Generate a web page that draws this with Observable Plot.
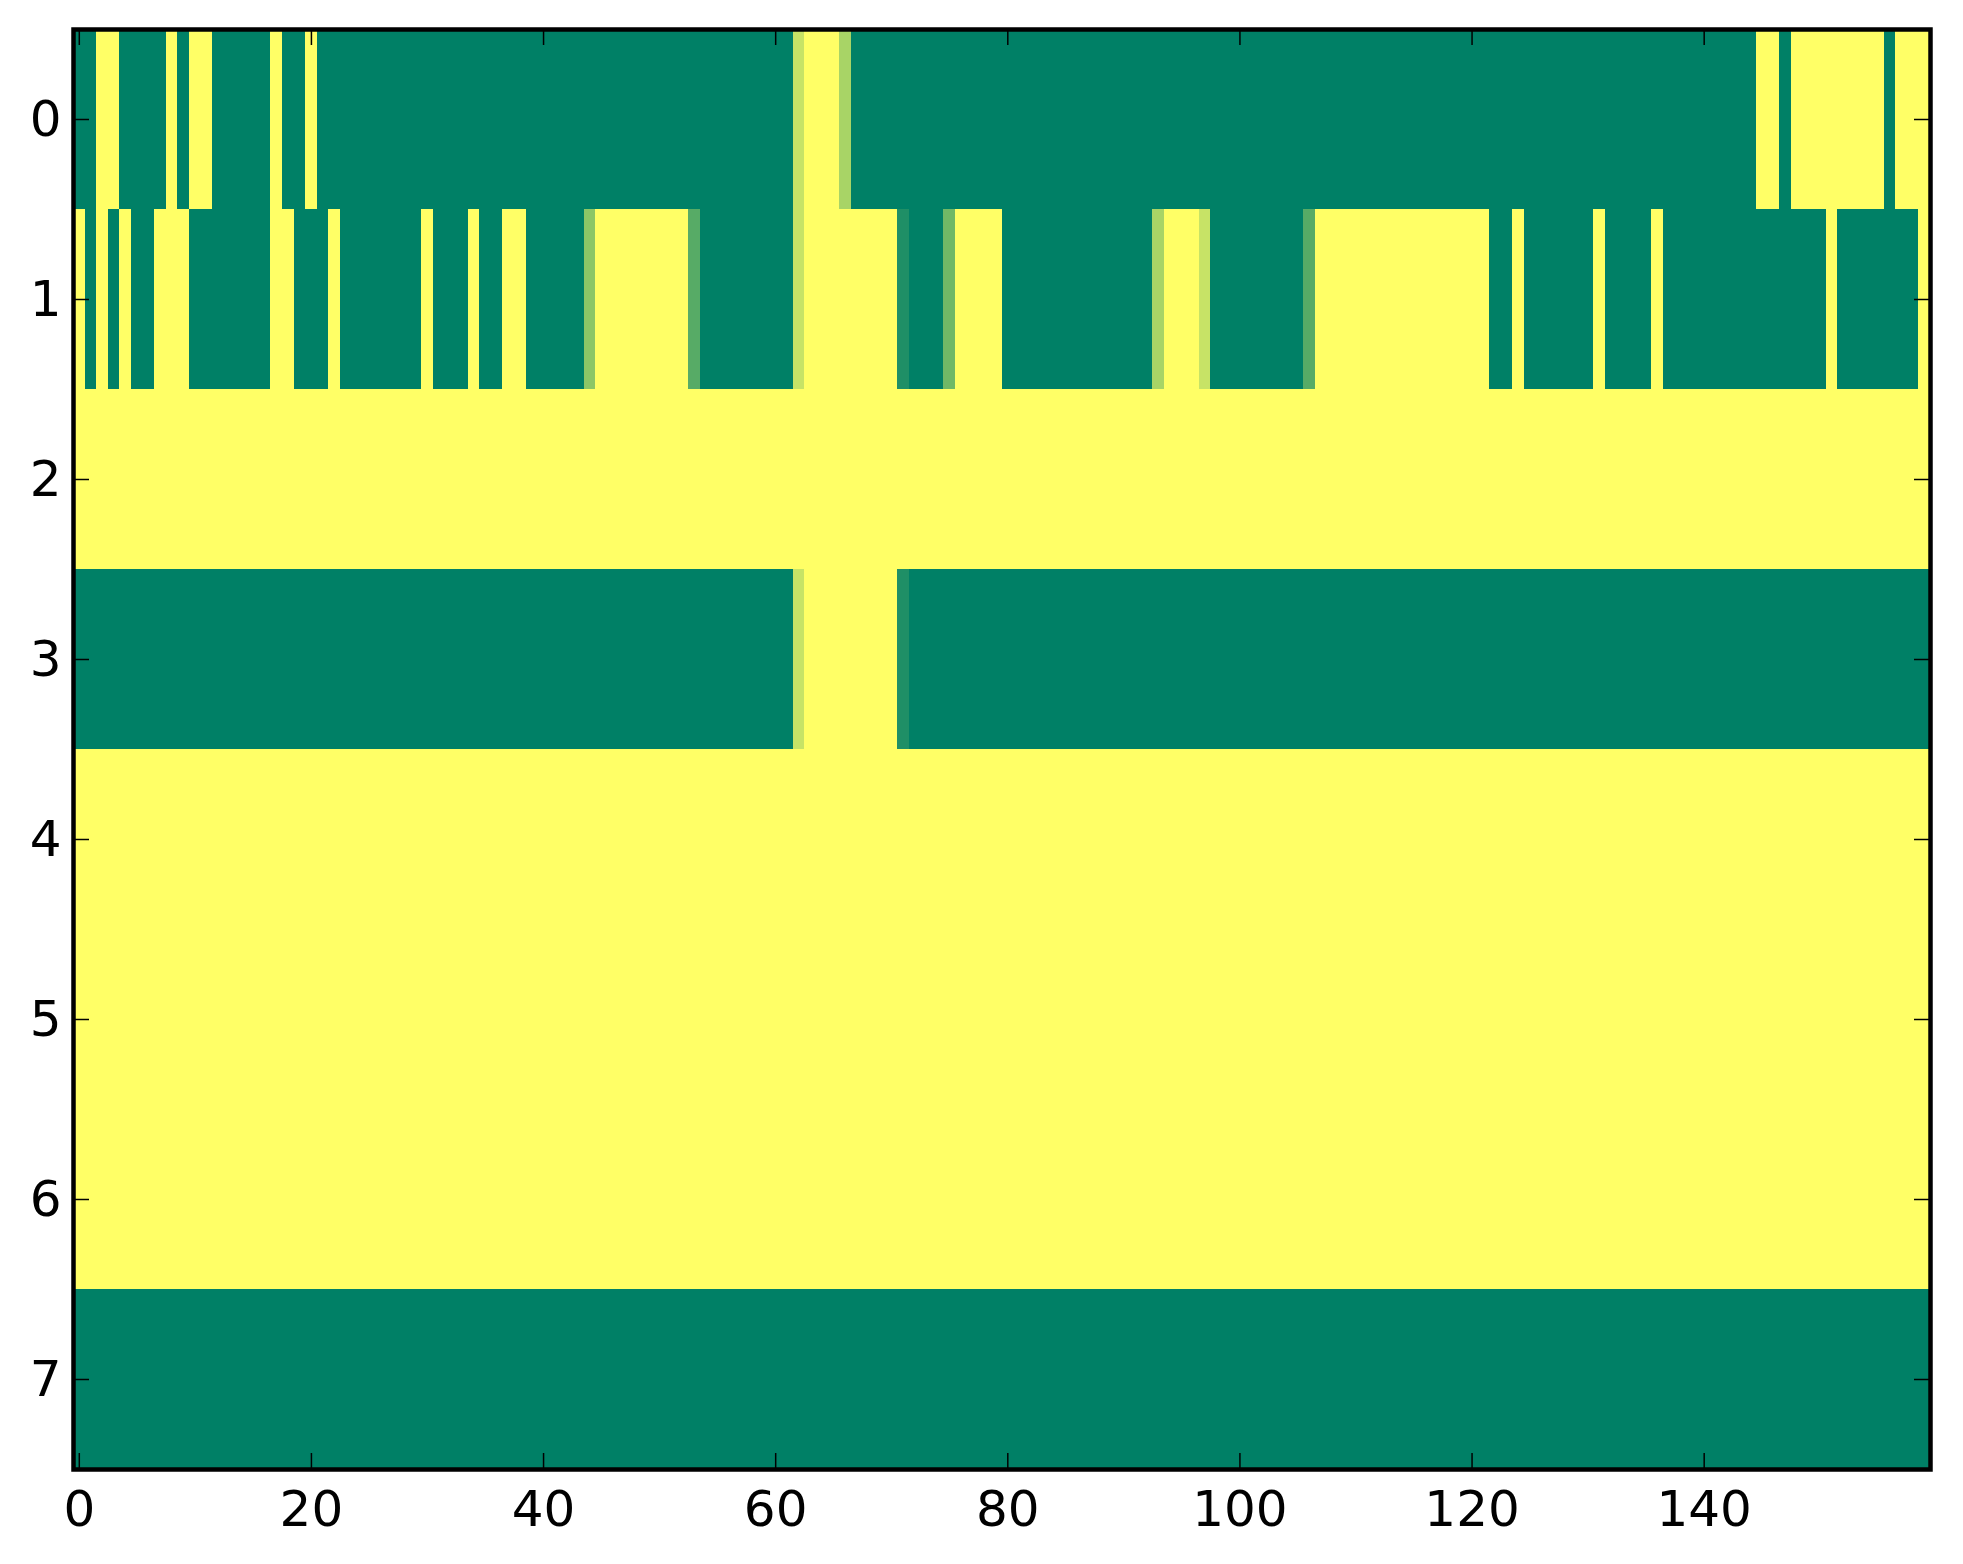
<!DOCTYPE html>
<html>
<head>
<meta charset="utf-8">
<script src="https://cdn.jsdelivr.net/npm/d3@7"></script>
<script src="https://cdn.jsdelivr.net/npm/@observablehq/plot@0.6"></script>
<style>
html, body { margin: 0; padding: 0; background: #fff; overflow: hidden; }
</style>
</head>
<body>
<div id="chart"></div>
<script>
// Matrix values (8 rows x 160 columns)
const row0 = [
  0,0,1,1,0,0,0,0,1,0,1,1,0,0,0,0,0,1,0,0,
  1,0,0,0,0,0,0,0,0,0,0,0,0,0,0,0,0,0,0,0,
  0,0,0,0,0,0,0,0,0,0,0,0,0,0,0,0,0,0,0,0,
  0,0,0.78,1,1,1,0.66,0,0,0,0,0,0,0,0,0,0,0,0,0,
  0,0,0,0,0,0,0,0,0,0,0,0,0,0,0,0,0,0,0,0,
  0,0,0,0,0,0,0,0,0,0,0,0,0,0,0,0,0,0,0,0,
  0,0,0,0,0,0,0,0,0,0,0,0,0,0,0,0,0,0,0,0,
  0,0,0,0,0,1,1,0,1,1,1,1,1,1,1,1,0,1,1,1
];
const row1 = [
  1,0,1,0,1,0,0,1,1,1,0,0,0,0,0,0,0,1,1,0,
  0,0,1,0,0,0,0,0,0,0,1,0,0,0,1,0,0,1,1,0,
  0,0,0,0,0.55,1,1,1,1,1,1,1,1,0.34,0,0,0,0,0,0,
  0,0,0.78,1,1,1,1,1,1,1,1,0.12,0,0,0,0.44,1,1,1,1,
  0,0,0,0,0,0,0,0,0,0,0,0,0,0.66,1,1,1,0.78,0,0,
  0,0,0,0,0,0,0.34,1,1,1,1,1,1,1,1,1,1,1,1,1,
  1,1,0,0,1,0,0,0,0,0,0,1,0,0,0,0,1,0,0,0,
  0,0,0,0,0,0,0,0,0,0,0,1,0,0,0,0,0,0,0,1
];
const row2 = [
  1,1,1,1,1,1,1,1,1,1,1,1,1,1,1,1,1,1,1,1,
  1,1,1,1,1,1,1,1,1,1,1,1,1,1,1,1,1,1,1,1,
  1,1,1,1,1,1,1,1,1,1,1,1,1,1,1,1,1,1,1,1,
  1,1,1,1,1,1,1,1,1,1,1,1,1,1,1,1,1,1,1,1,
  1,1,1,1,1,1,1,1,1,1,1,1,1,1,1,1,1,1,1,1,
  1,1,1,1,1,1,1,1,1,1,1,1,1,1,1,1,1,1,1,1,
  1,1,1,1,1,1,1,1,1,1,1,1,1,1,1,1,1,1,1,1,
  1,1,1,1,1,1,1,1,1,1,1,1,1,1,1,1,1,1,1,1
];
const row3 = [
  0,0,0,0,0,0,0,0,0,0,0,0,0,0,0,0,0,0,0,0,
  0,0,0,0,0,0,0,0,0,0,0,0,0,0,0,0,0,0,0,0,
  0,0,0,0,0,0,0,0,0,0,0,0,0,0,0,0,0,0,0,0,
  0,0,0.78,1,1,1,1,1,1,1,1,0.12,0,0,0,0,0,0,0,0,
  0,0,0,0,0,0,0,0,0,0,0,0,0,0,0,0,0,0,0,0,
  0,0,0,0,0,0,0,0,0,0,0,0,0,0,0,0,0,0,0,0,
  0,0,0,0,0,0,0,0,0,0,0,0,0,0,0,0,0,0,0,0,
  0,0,0,0,0,0,0,0,0,0,0,0,0,0,0,0,0,0,0,0
];
const row4 = [
  1,1,1,1,1,1,1,1,1,1,1,1,1,1,1,1,1,1,1,1,
  1,1,1,1,1,1,1,1,1,1,1,1,1,1,1,1,1,1,1,1,
  1,1,1,1,1,1,1,1,1,1,1,1,1,1,1,1,1,1,1,1,
  1,1,1,1,1,1,1,1,1,1,1,1,1,1,1,1,1,1,1,1,
  1,1,1,1,1,1,1,1,1,1,1,1,1,1,1,1,1,1,1,1,
  1,1,1,1,1,1,1,1,1,1,1,1,1,1,1,1,1,1,1,1,
  1,1,1,1,1,1,1,1,1,1,1,1,1,1,1,1,1,1,1,1,
  1,1,1,1,1,1,1,1,1,1,1,1,1,1,1,1,1,1,1,1
];
const row5 = [
  1,1,1,1,1,1,1,1,1,1,1,1,1,1,1,1,1,1,1,1,
  1,1,1,1,1,1,1,1,1,1,1,1,1,1,1,1,1,1,1,1,
  1,1,1,1,1,1,1,1,1,1,1,1,1,1,1,1,1,1,1,1,
  1,1,1,1,1,1,1,1,1,1,1,1,1,1,1,1,1,1,1,1,
  1,1,1,1,1,1,1,1,1,1,1,1,1,1,1,1,1,1,1,1,
  1,1,1,1,1,1,1,1,1,1,1,1,1,1,1,1,1,1,1,1,
  1,1,1,1,1,1,1,1,1,1,1,1,1,1,1,1,1,1,1,1,
  1,1,1,1,1,1,1,1,1,1,1,1,1,1,1,1,1,1,1,1
];
const row6 = [
  1,1,1,1,1,1,1,1,1,1,1,1,1,1,1,1,1,1,1,1,
  1,1,1,1,1,1,1,1,1,1,1,1,1,1,1,1,1,1,1,1,
  1,1,1,1,1,1,1,1,1,1,1,1,1,1,1,1,1,1,1,1,
  1,1,1,1,1,1,1,1,1,1,1,1,1,1,1,1,1,1,1,1,
  1,1,1,1,1,1,1,1,1,1,1,1,1,1,1,1,1,1,1,1,
  1,1,1,1,1,1,1,1,1,1,1,1,1,1,1,1,1,1,1,1,
  1,1,1,1,1,1,1,1,1,1,1,1,1,1,1,1,1,1,1,1,
  1,1,1,1,1,1,1,1,1,1,1,1,1,1,1,1,1,1,1,1
];
const row7 = [
  0,0,0,0,0,0,0,0,0,0,0,0,0,0,0,0,0,0,0,0,
  0,0,0,0,0,0,0,0,0,0,0,0,0,0,0,0,0,0,0,0,
  0,0,0,0,0,0,0,0,0,0,0,0,0,0,0,0,0,0,0,0,
  0,0,0,0,0,0,0,0,0,0,0,0,0,0,0,0,0,0,0,0,
  0,0,0,0,0,0,0,0,0,0,0,0,0,0,0,0,0,0,0,0,
  0,0,0,0,0,0,0,0,0,0,0,0,0,0,0,0,0,0,0,0,
  0,0,0,0,0,0,0,0,0,0,0,0,0,0,0,0,0,0,0,0,
  0,0,0,0,0,0,0,0,0,0,0,0,0,0,0,0,0,0,0,0
];

const xTicks = [0, 20, 40, 60, 80, 100, 120, 140];
const yTicks = [0, 1, 2, 3, 4, 5, 6, 7];

// matplotlib "summer" colormap end points
const colorLow = "#008066";
const colorHigh = "#ffff66";

const rows = [row0, row1, row2, row3, row4, row5, row6, row7];
const cells = [];
rows.forEach((vals, r) => vals.forEach((v, c) => cells.push({row: r, col: c, value: v})));

const W = 1963, H = 1564;
const mL = 73, mR = 33, mT = 29, mB = 95;
const innerW = W - mL - mR, innerH = H - mT - mB;
const tickLen = 16;
const nCols = row0.length, nRows = rows.length;
const intFmt = d3.format("d");

const chart = Plot.plot({
  width: W,
  height: H,
  marginLeft: mL,
  marginRight: mR,
  marginTop: mT,
  marginBottom: mB,
  style: {fontFamily: "'DejaVu Sans', sans-serif", fontSize: "50px", background: "white", color: "black"},
  x: {type: "linear", domain: [-0.5, nCols - 0.5]},
  y: {type: "linear", domain: [-0.5, nRows - 0.5], reverse: true},
  color: {type: "linear", domain: [0, 1], range: [colorLow, colorHigh], interpolate: "rgb"},
  marks: [
    Plot.rect(cells, {
      x1: d => d.col - 0.5, x2: d => d.col + 0.5,
      y1: d => d.row - 0.5, y2: d => d.row + 0.5,
      fill: "value",
      shapeRendering: "crispEdges"
    }),
    Plot.tickX(xTicks, {x: d => d, stroke: "black", strokeWidth: 1.5, insetTop: innerH - tickLen}),
    Plot.tickX(xTicks, {x: d => d, stroke: "black", strokeWidth: 1.5, insetBottom: innerH - tickLen}),
    Plot.tickY(yTicks, {y: d => d, stroke: "black", strokeWidth: 1.5, insetRight: innerW - tickLen}),
    Plot.tickY(yTicks, {y: d => d, stroke: "black", strokeWidth: 1.5, insetLeft: innerW - tickLen}),
    Plot.axisX(xTicks, {anchor: "bottom", tickSize: 0, tickPadding: 21, fontSize: 50, label: null, tickFormat: intFmt}),
    Plot.axisY(yTicks, {anchor: "left", tickSize: 0, tickPadding: 12, fontSize: 50, label: null, tickFormat: intFmt}),
    Plot.frame({stroke: "black", strokeWidth: 4.5})
  ]
});

document.getElementById("chart").appendChild(chart);
</script>
</body>
</html>
